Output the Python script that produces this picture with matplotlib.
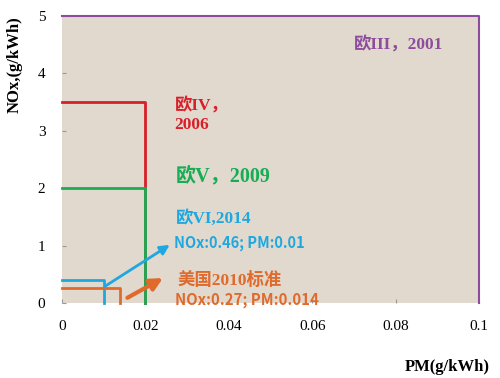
import matplotlib.pyplot as plt

# emission limits: (PM limit, NOx limit)
stds = ["Euro III", "Euro IV", "Euro V", "Euro VI", "US 2010"]
pm_limit = [0.1, 0.02, 0.02, 0.01, 0.014]
nox_limit = [5.0, 3.5, 2.0, 0.4, 0.27]
colors = ["#8e4c9e", "#d81f2a", "#17ad55", "#1fa8df", "#e06a2c"]
widths = [1.5, 2, 2, 2, 2]

xticks = [0, 0.02, 0.04, 0.06, 0.08, 0.1]
yticks = [0, 1, 2, 3, 4, 5]

serif = ["Liberation Serif", "Noto Sans CJK SC"]
cjk = ["Noto Sans CJK SC", "DejaVu Sans"]

fig = plt.figure(figsize=(5, 3.78), dpi=100)
ax = fig.add_axes([0.124, 0.198, 0.834, 0.760])
ax.set_facecolor("#e1d9cd")

for pm, nox, c, lw in zip(pm_limit, nox_limit, colors, widths):
    ax.plot([0, pm, pm], [nox, nox, 0], color=c, lw=lw, clip_on=False, zorder=3)

ax.set_xlim(0, 0.1)
ax.set_ylim(0, 5)
for s in ax.spines.values():
    s.set_visible(False)
ax.set_xticks(xticks)
ax.set_xticklabels(["0", "0.02", "0.04", "0.06", "0.08", "0.1"])
ax.set_yticks(yticks)
ax.tick_params(direction="in", length=3, color="#999999", labelsize=11, pad=12)
for lab in ax.get_xticklabels() + ax.get_yticklabels():
    lab.set_family("Liberation Serif")

ax.set_ylabel("NOx,(g/kWh)", family="Liberation Serif", fontweight="bold", fontsize=12)
ax.yaxis.set_label_coords(-0.095, 0.83)
fig.text(0.98, 0.008, "PM(g/kWh)", family="Liberation Serif", fontweight="bold",
         fontsize=12, ha="right", va="bottom")

ax.text(0.0808, 4.49, "欧III，2001", color=colors[0], family=serif, fontweight="bold",
        fontsize=12.5, ha="center", va="center")
ax.text(0.027, 3.27, "欧IV，\n2006", color=colors[1], family=serif, fontweight="bold",
        fontsize=12.5, ha="left", va="center", linespacing=1.2)
ax.text(0.0272, 2.2, "欧V，2009", color=colors[2], family=serif, fontweight="bold",
        fontsize=14.5, ha="left", va="center")
ax.text(0.0272, 1.48, "欧VI,2014", color=colors[3], family=serif, fontweight="bold",
        fontsize=12.5, ha="left", va="center")
ax.text(0.0268, 1.05, "NOx:0.46; PM:0.01", color=colors[3], family=cjk, fontweight="bold",
        fontsize=10.5, ha="left", va="center")
ax.text(0.0278, 0.40, "美国2010标准", color=colors[4], family=serif, fontweight="bold",
        fontsize=12.5, ha="left", va="center")
ax.text(0.0272, 0.05, "NOx:0.27; PM:0.014", color=colors[4], family=cjk, fontweight="bold",
        fontsize=10.8, ha="left", va="center", clip_on=False)

ax.annotate("", xy=(0.0264, 1.04), xytext=(0.0098, 0.27),
            arrowprops=dict(arrowstyle="-|>", color=colors[3], lw=2, mutation_scale=14))
ax.annotate("", xy=(0.0248, 0.46), xytext=(0.0151, 0.07),
            arrowprops=dict(arrowstyle="-|>", color=colors[4], lw=3, mutation_scale=18))

fig.text(0.965, 0.083, "卡车之家", family=cjk, fontweight="bold", fontsize=12, color="white",
         ha="right", va="center", alpha=0.9)

fig.savefig("out.png", dpi=100)
